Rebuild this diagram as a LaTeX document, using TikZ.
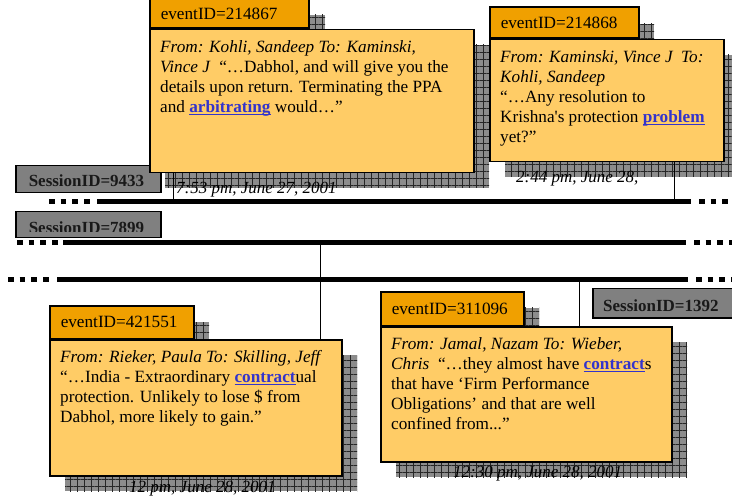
\documentclass[tikz,border=0pt]{standalone}
\usepackage{fontspec}
\setmainfont{Liberation Serif}
\usetikzlibrary{patterns.meta}

\definecolor{taborange}{RGB}{240,160,0}
\definecolor{boxorange}{RGB}{255,204,102}
\definecolor{sessgray}{RGB}{128,128,128}
\definecolor{linkblue}{RGB}{51,51,204}

% hyperlinked keyword: blue, bold, underlined
\newcommand{\kwlink}[1]{{\color{linkblue}\bfseries\setbox0\hbox{#1}\rlap{\rule[-2.6pt]{\wd0}{1.4pt}}\box0}}

\begin{document}
\begin{tikzpicture}[x=1pt, y=-1pt,
    every node/.style={font=\fontsize{17.2}{20}\selectfont},
    evbox/.style={draw, line width=1.5pt, fill=boxorange, anchor=north west, inner sep=0pt},
    evtab/.style={draw, line width=1.5pt, fill=taborange, anchor=south west, inner xsep=11pt, inner ysep=0pt, align=left},
    evtext/.style={anchor=north west, align=left, inner xsep=11pt, inner ysep=11.5pt},
    evshade/.style={fill=black!45,
        postaction={pattern={Lines[distance=7pt, angle=0, line width=0.6pt]}, pattern color=black!85},
        postaction={pattern={Lines[distance=7pt, angle=90, line width=0.6pt]}, pattern color=black!85}},
    sessbox/.style={draw, line width=1.5pt, fill=sessgray, anchor=north west, inner sep=0pt},
    sesstext/.style={inner sep=0pt, font=\fontsize{17}{20}\selectfont\bfseries, text=black!90},
    datetext/.style={anchor=base west, inner sep=0pt, font=\fontsize{17}{20}\selectfont\itshape},
    tline/.style={line width=5pt},
    tdots/.style={line width=5pt, dash pattern=on 5.5pt off 6.2pt},
    conn/.style={line width=1pt}]

    \useasboundingbox (0,0) rectangle (732,500);

    % Session boxes
    \node[sessbox, minimum width=145pt, minimum height=27pt] (s1) at (15,165) {};
    \node[sesstext, anchor=base] (s1t) at (86.5,187) {SessionID=9433};
    \node[sessbox, minimum width=145pt, minimum height=26pt] (s2) at (15,211) {};
    \begin{scope}
        \clip (15,211) rectangle (160,232);
        \node[sesstext, anchor=base] (s2t) at (86.5,233.5) {SessionID=7899};
    \end{scope}

    % --- Timelines ---
    \coordinate (L1a) at (49,202);  \coordinate (L1b) at (97,202);
    \coordinate (L1c) at (691,202); \coordinate (L1d) at (699,202);
    \coordinate (L2a) at (17,243);  \coordinate (L2b) at (63,243);
    \coordinate (L2c) at (686,243); \coordinate (L2d) at (694,243);
    \coordinate (L3a) at (8,280);   \coordinate (L3b) at (57,280);
    \coordinate (L3c) at (688,280); \coordinate (L3d) at (696,280);
    \coordinate (R) at (740,0);

    \draw[tdots] (L1a) -- (L1b -| 94,0);
    \draw[tline] (L1b) -- (L1c);
    \draw[tdots] (L1d) -- (L1d -| R);
    \draw[tdots] (L2a) -- (L2b -| 60,0);
    \draw[tline] (L2b) -- (L2c);
    \draw[tdots] (L2d) -- (L2d -| R);
    \draw[tdots] (L3a) -- (L3b -| 54,0);
    \draw[tline] (L3b) -- (L3c);
    \draw[tdots] (L3d) -- (L3d -| R);

    % --- eventID=214867 ---
    \path[evshade] (165,15) rectangle (325,45);
    \path[evshade] (165,45) rectangle (489,188);
    \node[evbox, minimum width=324pt, minimum height=143pt] (ev1) at (149,29) {};
    \node[evtab, minimum height=28.5pt, text width=137pt] (tab1) at (ev1.north west) {eventID=214867};
    \node[evtext] (msg1) at (ev1.north west) {\textit{From: Kohli, Sandeep To: Kaminski,}\\
        \textit{Vince J}\ \ “…Dabhol, and will give you the\\
        details upon return. Terminating the PPA\\
        and \kwlink{arbitrating} would…”};
    \node[datetext] (d1) at (176,194) {7:53 pm, June 27, 2001};

    % --- eventID=214868 ---
    \path[evshade] (505,24) rectangle (654,55);
    \path[evshade] (505,55) rectangle (740,177);
    \node[evbox, minimum width=234pt, minimum height=122pt] (ev2) at (489,39) {};
    \node[evtab, minimum height=31pt, text width=127pt] (tab2) at (ev2.north west) {eventID=214868};
    \node[evtext] (msg2) at (ev2.north west) {\textit{From: Kaminski, Vince J\ \ To:}\\
        \textit{Kohli, Sandeep}\\
        “…Any resolution to\\
        Krishna\textquotesingle s protection \kwlink{problem}\\
        yet?”};
    \node[datetext] (d2) at (516,183) {2:44 pm, June 28,};

    % --- eventID=421551 ---
    \path[evshade] (65,322) rectangle (209,355);
    \path[evshade] (65,355) rectangle (357,491);
    \node[evbox, minimum width=292pt, minimum height=136pt] (ev3) at (49,339) {};
    \node[evtab, minimum height=32pt, text width=122pt] (tab3) at (ev3.north west) {eventID=421551};
    \node[evtext] (msg3) at (ev3.north west) {\textit{From: Rieker, Paula To: Skilling, Jeff}\\
        “…India - Extraordinary \kwlink{contract}ual\\
        protection. Unlikely to lose \$ from\\
        Dabhol, more likely to gain.”};
    \node[datetext] (d3) at (129,492) {12 pm, June 28, 2001};

    % --- eventID=311096 ---
    \path[evshade] (396,308) rectangle (539,342);
    \path[evshade] (396,342) rectangle (687,477);
    \node[evbox, minimum width=291pt, minimum height=135pt] (ev4) at (380,326) {};
    \node[evtab, minimum height=33pt, text width=121pt] (tab4) at (ev4.north west) {eventID=311096};
    \node[evtext] (msg4) at (ev4.north west) {\textit{From: Jamal, Nazam To: Wieber,}\\
        \textit{Chris}\ \ “…they almost have \kwlink{contract}s\\
        that have ‘Firm Performance\\
        Obligations’ and that are well\\
        confined from...”};
    \node[datetext] (d4) at (453,477) {12:30 pm, June 28, 2001};

    % Session box below the third timeline
    \node[sessbox, minimum width=145pt, minimum height=29pt] (s3) at (592,288) {};
    \node[sesstext, anchor=base west] (s3t) at (603,312) {SessionID=1392};

    % --- Connectors from events to their timelines ---
    \coordinate (J1) at (173,202);
    \coordinate (J2) at (674,202);
    \coordinate (J3) at (320,243);
    \coordinate (J4) at (579,280);
    \draw[conn] (ev1.south -| J1) -- (J1);
    \draw[conn] (ev2.south -| J2) -- (J2);
    \draw[conn] (J3) -- (J3 |- ev3.north);
    \draw[conn] (J4) -- (J4 |- ev4.north);

\end{tikzpicture}
\end{document}
